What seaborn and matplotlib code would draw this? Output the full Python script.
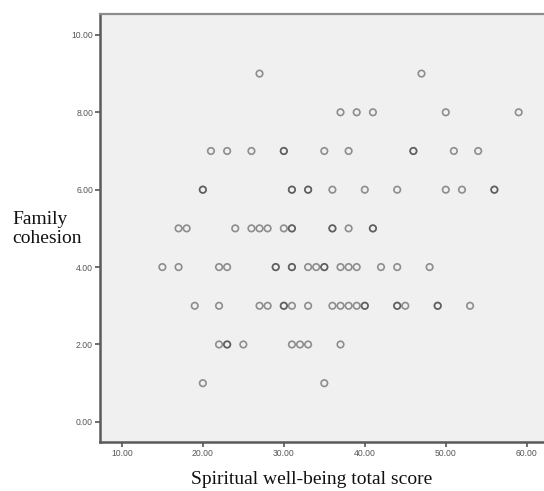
import matplotlib
matplotlib.use("Agg")
import matplotlib.pyplot as plt
import seaborn as sns
import pandas as pd

# Spiritual well-being total scores observed at each family-cohesion level
# (repeated values = overlapping cases, drawn darker)
score_at_9 = [27, 47]
score_at_8 = [37, 39, 41, 50, 59]
score_at_7 = [21, 23, 26, 30, 30, 35, 38, 46, 46, 51, 54]
score_at_6 = [20, 20, 31, 31, 33, 33, 36, 40, 44, 50, 52, 56, 56]
score_at_5 = [17, 18, 24, 26, 27, 28, 30, 31, 31, 36, 36, 38, 41, 41]
score_at_4 = [15, 17, 22, 23, 29, 29, 31, 31, 33, 34, 35, 35, 37, 38, 39, 42, 44, 48]
score_at_3 = [19, 22, 27, 28, 30, 30, 31, 33, 36, 37, 38, 39, 40, 40, 44, 44, 45, 49, 49, 53]
score_at_2 = [22, 23, 23, 25, 31, 32, 33, 37]
score_at_1 = [20, 35]

cohesion_levels = [9, 8, 7, 6, 5, 4, 3, 2, 1]
score_lists = [score_at_9, score_at_8, score_at_7, score_at_6, score_at_5,
               score_at_4, score_at_3, score_at_2, score_at_1]

x_ticks = [10, 20, 30, 40, 50, 60]
y_ticks = [0, 2, 4, 6, 8, 10]

rows = []
for lvl, scores in zip(cohesion_levels, score_lists):
    for s in scores:
        rows.append({"Spiritual well-being total score": s, "Family cohesion": lvl})
df = pd.DataFrame(rows)

sns.set_style("white")
plt.rcParams["font.family"] = ["Liberation Sans", "DejaVu Sans"]

fig = plt.figure(figsize=(5.44, 4.91), dpi=100)
ax = fig.add_axes([100 / 544, 49 / 491, 447 / 544, 428 / 491])
ax.set_facecolor("#F0F0F0")

mcol = (0.2, 0.2, 0.2, 0.52)
sns.scatterplot(data=df, x="Spiritual well-being total score", y="Family cohesion",
                ax=ax, marker="o", s=22, color=mcol, facecolor="none",
                edgecolor=mcol, linewidth=1.2, legend=False)

ax.set_xlim(7.3, 62.5)
ax.set_ylim(-0.52, 10.54)
ax.set_xticks(x_ticks)
ax.set_yticks(y_ticks)
ax.set_xticklabels([f"{v:.2f}" for v in x_ticks])
ax.set_yticklabels([f"{v:.2f}" for v in y_ticks])
ax.tick_params(axis="both", which="major", direction="out", length=3.5, width=1.2,
               color="#555555", labelsize=6.2, labelcolor="#555555", pad=1.5,
               bottom=True, left=True)
ax.set_xlabel("")
ax.set_ylabel("")

for side in ["left", "bottom"]:
    ax.spines[side].set_color("#5a5a5a")
    ax.spines[side].set_linewidth(1.8)
for side in ["top", "right"]:
    ax.spines[side].set_color("#8c8c8c")
    ax.spines[side].set_linewidth(1.6)

serif = ["Liberation Serif", "DejaVu Serif"]
fig.text(12 / 544, 1 - 229 / 491, "Family\ncohesion", ha="left", va="center",
         fontsize=14, family=serif, color="#111111", linespacing=1.2,
         multialignment="left")
fig.text(312 / 544, 1 - 480 / 491, "Spiritual well-being total score", ha="center",
         va="center", fontsize=14, family=serif, color="#111111")

fig.savefig("out.png", dpi=100, facecolor="white")
